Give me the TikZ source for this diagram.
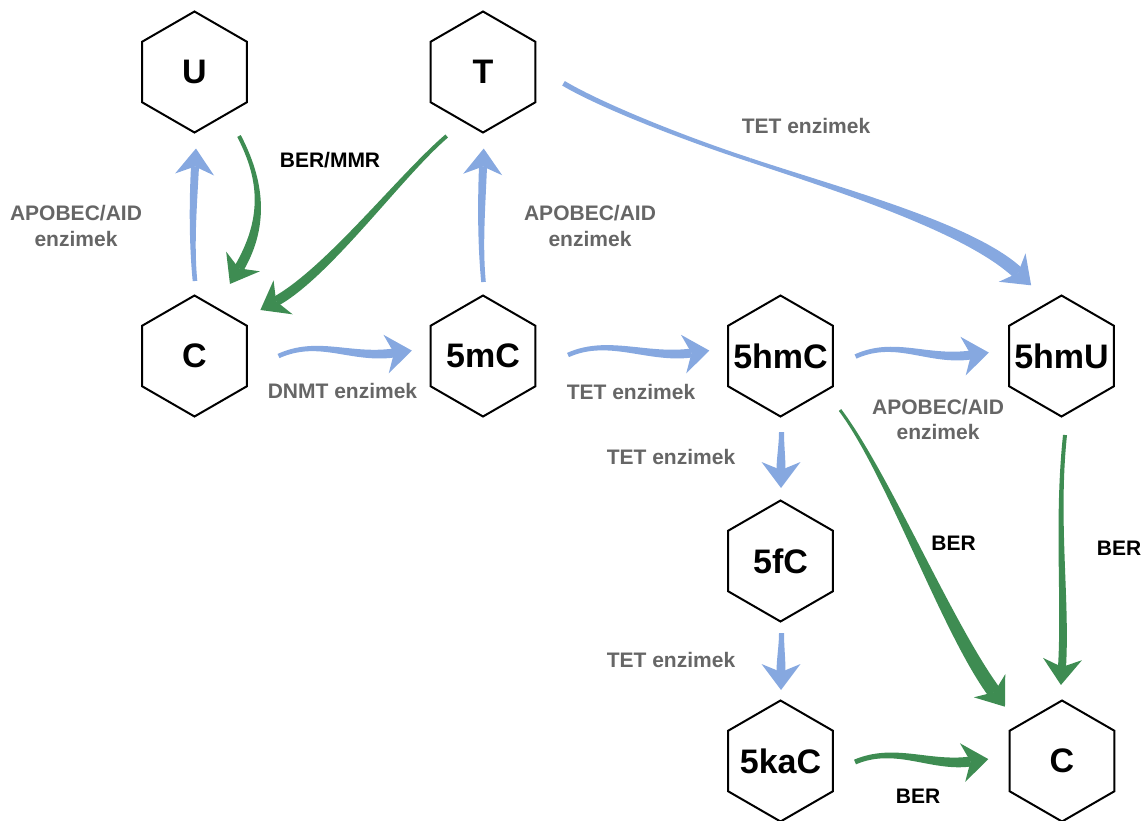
\documentclass[tikz,border=0pt]{standalone}
\usepackage{fontspec}
\setmainfont{Liberation Sans}
\usetikzlibrary{calc,shapes.geometric}
\definecolor{arrblue}{RGB}{134,168,224}
\definecolor{arrgreen}{RGB}{62,140,82}
\definecolor{labgray}{RGB}{102,102,102}
% tapered shaft: #1 colour, #2 start, #3 ctrl1, #4 ctrl2, #5 end, #6 half width start, #7 half width end
\newcommand\tshaft[7]{%
  \fill[#1] ($(#2)!#6!90:(#3)$) .. controls ($(#3)!#6!-90:(#2)$) and ($(#4)!#7!90:(#5)$) .. ($(#5)!#7!-90:(#4)$)
    -- ($(#5)!#7!90:(#4)$) .. controls ($(#4)!#7!-90:(#5)$) and ($(#3)!#6!90:(#2)$) .. ($(#2)!#6!-90:(#3)$) -- cycle;
}
% tapered arrow: same arguments, #5 is the back of the head
\newcommand\tarr[7]{%
  \tshaft{#1}{#2}{#3}{#4}{#5}{#6}{#7}
  \coordinate (hb) at ($(#5)!8pt!(#4)$);
  \fill[#1] ($(#5)!-18pt!(#4)$) -- ($(hb)!19.5pt!90:(#5)$) -- (#5) -- ($(hb)!19.5pt!-90:(#5)$) -- cycle;
}
\newcommand\hx[1]{\makebox[0pt]{#1}}
\tikzset{
  hexa/.style={draw, line width=2pt, regular polygon, regular polygon sides=6,
    shape border rotate=30, minimum size=121pt, inner sep=0pt,
    font=\fontsize{34}{34}\selectfont\bfseries},
  glab/.style={text=labgray, font=\fontsize{21}{25.5}\selectfont\bfseries, align=center, inner sep=0pt},
  blab/.style={text=black, font=\fontsize{21}{25.5}\selectfont\bfseries, align=center, inner sep=0pt}
}
\begin{document}
\begin{tikzpicture}[x=1pt,y=-1pt]
\useasboundingbox (0,0) rectangle (1142,820);
% nodes
\node[hexa] (U) at (194.5,72) {\hx{U}};
\node[hexa] (T) at (483,72) {\hx{T}};
\node[hexa] (C) at (194.5,356) {\hx{C}};
\node[hexa] (M) at (483,356) {\hx{5mC}};
\node[hexa] (H) at (780.5,356) {\hx{5hmC}};
\node[hexa] (HU) at (1061.5,356) {\hx{5hmU}};
\node[hexa] (F) at (780.5,561) {\hx{5fC}};
\node[hexa] (K) at (780.5,761) {\hx{5kaC}};
\node[hexa] (C2) at (1062,761) {\hx{C}};
% labels
\node[glab] (l1) at (76,226) {APOBEC/AID\\enzimek};
\node[glab] (l2) at (590,226) {APOBEC/AID\\enzimek};
\node[blab] (l3) at (330,160) {BER/MMR};
\node[glab] (l4) at (342.5,391) {DNMT enzimek};
\node[glab] (l5) at (806,126) {TET enzimek};
\node[glab] (l6) at (631,392) {TET enzimek};
\node[glab] (l7) at (938,419.5) {APOBEC/AID\\enzimek};
\node[glab] (l8) at (671,457) {TET enzimek};
\node[glab] (l9) at (671,659.5) {TET enzimek};
\node[blab] (l10) at (953.5,543) {BER};
\node[blab] (l11) at (1119,548) {BER};
\node[blab] (l12) at (918,796.5) {BER};
% arrow end coordinates
\coordinate (a1s) at ($(C)+(0.5,-75)$);
\coordinate (a1e) at ($(U)+(0.5,94.5)$);
\coordinate (a2s) at ($(U)+(44.5,64)$);
\coordinate (a2e) at ($(C)+(44.5,-87.6)$);
\coordinate (a3s) at ($(T)+(-36.3,64)$);
\coordinate (a3e) at ($(C)+(81.6,-54.8)$);
\coordinate (a4s) at ($(M)+(0.5,-74)$);
\coordinate (a4e) at ($(T)+(0,94.5)$);
\coordinate (a5s) at ($(C)+(84,0)$);
\coordinate (a5e) at ($(M)+(-89,-3)$);
\coordinate (a6s) at ($(T)+(80.5,11.3)$);
\coordinate (a6m) at ($(T)+(267,88)$);
\coordinate (a6e) at ($(HU)+(-43.5,-83)$);
\coordinate (a7s) at ($(M)+(85,-1)$);
\coordinate (a7e) at ($(H)+(-89,-3)$);
\coordinate (a8s) at ($(H)+(75,0.5)$);
\coordinate (a8e) at ($(HU)+(-90.5,-1)$);
\coordinate (a9s) at ($(H)+(1,76)$);
\coordinate (a9e) at ($(F)+(0.5,-91)$);
\coordinate (a10s) at ($(F)+(1,72)$);
\coordinate (a10e) at ($(K)+(0.5,-89)$);
\coordinate (a11s) at ($(H)+(59.5,54)$);
\coordinate (a11e) at ($(C2)+(-67.7,-68.8)$);
\coordinate (a12s) at ($(HU)+(3.5,79)$);
\coordinate (a12e) at ($(C2)+(0,-94)$);
\coordinate (a13s) at ($(K)+(74.5,1)$);
\coordinate (a13e) at ($(C2)+(-91.5,0.5)$);
% arrows
\tarr{arrblue}{a1s}{191.5,245}{193,205}{a1e}{2.3pt}{4pt}
\tarr{arrgreen}{a2s}{262,180}{266,222}{a2e}{2pt}{5pt}
\tarr{arrgreen}{a3s}{401,175}{328.5,271.9}{a3e}{2pt}{5pt}
\tarr{arrblue}{a4s}{480,245}{481.5,205}{a4e}{2.3pt}{4pt}
\tarr{arrblue}{a5s}{318.5,338}{350,359}{a5e}{2.3pt}{4.5pt}
\tshaft{arrblue}{a6s}{600,105}{680,137}{a6m}{2.6pt}{2pt}
\tarr{arrblue}{a6m}{840,190}{970,228}{a6e}{2pt}{6.3pt}
\tarr{arrblue}{a7s}{608,337}{647.5,359}{a7e}{2.3pt}{4.5pt}
\tarr{arrblue}{a8s}{895.5,338.5}{927,361}{a8e}{2.3pt}{4.5pt}
\tarr{arrblue}{a9s}{781.5,445}{781,458}{a9e}{2.5pt}{4.5pt}
\tarr{arrblue}{a10s}{781.5,646}{781,659}{a10e}{2.5pt}{4.5pt}
\tarr{arrgreen}{a11s}{888,474}{946.9,627.8}{a11e}{1.5pt}{7pt}
\tarr{arrgreen}{a12s}{1056,520}{1066,600}{a12e}{2pt}{4pt}
\tarr{arrgreen}{a13s}{895,745}{930,767}{a13e}{2.5pt}{5pt}
\end{tikzpicture}
\end{document}
